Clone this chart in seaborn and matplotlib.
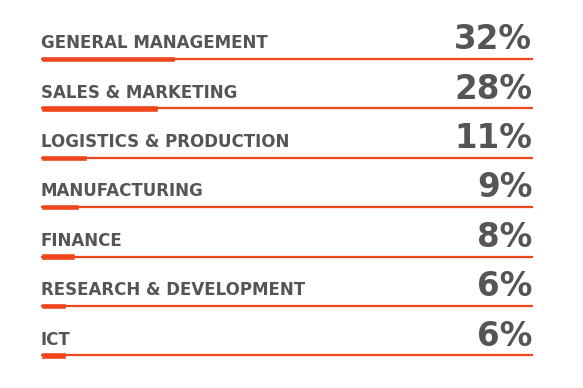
import matplotlib
matplotlib.use("Agg")
import matplotlib.pyplot as plt
import seaborn as sns
import pandas as pd

categories = ["GENERAL MANAGEMENT", "SALES & MARKETING", "LOGISTICS & PRODUCTION",
              "MANUFACTURING", "FINANCE", "RESEARCH & DEVELOPMENT", "ICT"]
values = [32, 28, 11, 9, 8, 6, 6]
labels = ["32%", "28%", "11%", "9%", "8%", "6%", "6%"]

df = pd.DataFrame({"cat": categories, "val": values})

sns.set_theme(style="white")
plt.rcParams['font.family'] = ['DejaVu Sans']

ORANGE = "#F0461E"
GRAY = "#545557"

fig = plt.figure(figsize=(5.83, 3.88), dpi=100)
ax = fig.add_axes([0, 0, 1, 1])

sns.barplot(data=df, x="val", y="cat", orient="h", color=ORANGE, width=0.13,
            saturation=1, ax=ax)

pxu = 4.19
full = (533 - 41) / pxu
ax.hlines(range(len(categories)), 0, full, color=ORANGE, lw=1.6, zorder=1)

ax.set_xlim(-41 / pxu, (583 - 41) / pxu)
row = 49.4
ax.set_ylim((388 - 59) / row, -59 / row)

for i, (c, l) in enumerate(zip(categories, labels)):
    ax.text(0, i - 0.22, c, fontsize=12, fontweight="bold", color=GRAY,
            ha="left", va="baseline")
    ax.text(full - 0.2, i - 0.2, l, fontsize=23.5, fontweight="bold", color=GRAY,
            ha="right", va="baseline")

ax.set_axis_off()
fig.savefig("out.png", dpi=100)
